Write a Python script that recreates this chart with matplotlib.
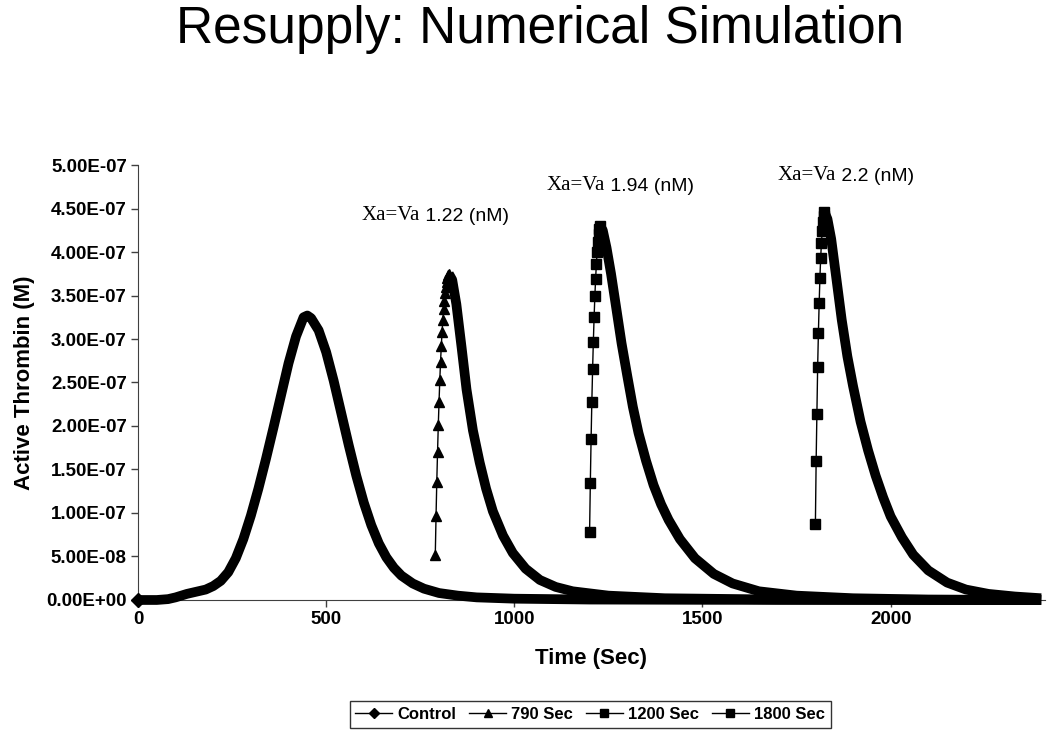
# -*- coding: utf-8 -*-
"""Resupply: numerical simulation of active thrombin
"""
import numpy as np
import matplotlib
matplotlib.use('Agg')
import matplotlib.pyplot as plt
from matplotlib.ticker import FuncFormatter
from matplotlib.lines import Line2D

# time [s] and thrombin [x1e-7 M]
control_t = [0, 50, 80, 100, 130, 160, 180, 200, 220, 240, 260, 280, 300, 320, 340,
             360, 380, 400, 420, 440, 450, 460, 480, 500, 520, 540, 560, 580, 600, 620,
             640, 660, 680, 700, 730, 760, 800, 850, 900, 1000, 1200, 1500, 2000, 2400]
control_y = [0, 0, 0.01, 0.03, 0.07, 0.10, 0.12, 0.16, 0.22, 0.32, 0.48, 0.70, 0.97, 1.28, 1.62,
             1.98, 2.35, 2.72, 3.03, 3.25, 3.27, 3.24, 3.10, 2.85, 2.52, 2.15, 1.78, 1.43, 1.12, 0.86,
             0.65, 0.49, 0.37, 0.28, 0.19, 0.13, 0.08, 0.05, 0.03, 0.015, 0.005, 0.002, 0, 0]

s790_t = [790, 792, 794, 796, 798, 800, 802, 804, 806, 808, 810, 812, 814, 816, 818, 820, 822, 824, 826,
          835, 846, 860, 873, 890, 908, 925, 943, 970, 996, 1030, 1068, 1110, 1155, 1250, 1400, 1700, 2400]
s790_y = [0.52, 0.96, 1.36, 1.70, 2.01, 2.28, 2.53, 2.74, 2.92, 3.08, 3.22, 3.34, 3.44, 3.53, 3.60, 3.66, 3.70, 3.73, 3.75,
          3.68, 3.40, 2.90, 2.42, 1.95, 1.58, 1.28, 1.02, 0.74, 0.54, 0.36, 0.23, 0.15, 0.10, 0.05, 0.02, 0.005, 0.0]

s1200_t = [1200, 1202, 1204, 1206, 1208, 1210, 1212, 1214, 1216, 1218, 1220, 1222, 1224, 1226, 1228,
           1235, 1245, 1257, 1270, 1285, 1300, 1315, 1330, 1350, 1370, 1390, 1410, 1440, 1480, 1530,
           1580, 1650, 1750, 1900, 2100, 2400]
s1200_y = [0.78, 1.35, 1.85, 2.28, 2.65, 2.97, 3.25, 3.49, 3.69, 3.86, 4.00, 4.12, 4.21, 4.27, 4.30,
           4.25, 4.05, 3.75, 3.38, 2.95, 2.58, 2.22, 1.92, 1.60, 1.32, 1.10, 0.92, 0.70, 0.48, 0.30,
           0.19, 0.10, 0.05, 0.02, 0.005, 0.0]

s1800_t = [1800, 1802, 1804, 1806, 1808, 1810, 1812, 1814, 1816, 1818, 1820, 1822, 1824,
           1832, 1842, 1855, 1870, 1885, 1900, 1920, 1940, 1960, 1980, 2000, 2030, 2060, 2100,
           2150, 2200, 2260, 2330, 2400]
s1800_y = [0.87, 1.60, 2.14, 2.68, 3.07, 3.41, 3.70, 3.93, 4.10, 4.24, 4.34, 4.41, 4.46,
           4.38, 4.15, 3.72, 3.22, 2.80, 2.46, 2.05, 1.72, 1.43, 1.18, 0.96, 0.72, 0.52, 0.34,
           0.20, 0.12, 0.07, 0.04, 0.02]

series = [('Control', control_t, control_y, 'D'),
          ('790 Sec', s790_t, s790_y, '^'),
          ('1200 Sec', s1200_t, s1200_y, 's'),
          ('1800 Sec', s1800_t, s1800_y, 's')]

notes = [('1.22', 595, 4.31e-7), ('1.94', 1086, 4.65e-7), ('2.2', 1700, 4.77e-7)]

plt.rcParams['font.family'] = ['Liberation Sans', 'DejaVu Sans']

fig = plt.figure(figsize=(10.5, 7.36), dpi=100)
ax = fig.add_axes([0.1314, 0.1848, 0.8638, 0.591])

for name, t, y, mk in series:
    t = np.array(t)
    y = np.array(y) * 1e-7
    ipk = 0 if name == 'Control' else int(np.argmax(y))
    # thin line + markers on the rise, dense band from the peak on
    ax.plot(t[:ipk + 1], y[:ipk + 1], '-', c='k', lw=1, marker=mk, ms=7, clip_on=False, zorder=3)
    ax.plot(t[ipk:], y[ipk:], '-', c='k', lw=7, solid_joinstyle='round',
            solid_capstyle='butt', clip_on=False, zorder=3)

ax.set_xlim(0, 2410)
ax.set_ylim(0, 5e-7)
ax.set_xticks([0, 500, 1000, 1500, 2000])
ax.set_yticks(np.arange(0, 5.01e-7, 5e-8))
ax.yaxis.set_major_formatter(FuncFormatter(lambda v, p: f'{v:.2E}'))
for s in ['top', 'right']:
    ax.spines[s].set_visible(False)
for s in ['left', 'bottom']:
    ax.spines[s].set_color('#404040')
ax.tick_params(direction='out', length=5, width=1, color='#404040', labelsize=13.5, pad=3)
for lab in ax.get_xticklabels() + ax.get_yticklabels():
    lab.set_fontweight('bold')

ax.set_xlabel('Time (Sec)', fontsize=16, fontweight='bold', labelpad=14)
ax.set_ylabel('Active Thrombin (M)', fontsize=16, fontweight='bold', labelpad=8)

# peak annotations, serif for "Xa=Va" like the original
for val, tx, ty in notes:
    t1 = ax.text(tx, ty, 'Xa=Va', family='Liberation Serif', fontsize=15, va='bottom')
    ax.annotate(f' {val} (nM)', xy=(1, 0), xycoords=t1, va='bottom', ha='left',
                family='Liberation Sans', fontsize=14)

fig.text(540 / 1050, 1 - 29 / 736, 'Resupply: Numerical Simulation', fontsize=37,
         ha='center', va='center')

# legend below the axes
handles = [Line2D([], [], c='k', lw=1, marker=mk, ms=5.5) for _, _, _, mk in series]
leg = fig.legend(handles, [s[0] for s in series], loc='center', bbox_to_anchor=(0.562, 0.029),
                 ncol=4, frameon=True, fancybox=False, edgecolor='k', handlelength=2.2,
                 handletextpad=0.3, columnspacing=0.8, borderpad=0.35,
                 prop={'weight': 'bold', 'size': 12})
leg.get_frame().set_linewidth(1)

fig.savefig('out.png', dpi=100)
